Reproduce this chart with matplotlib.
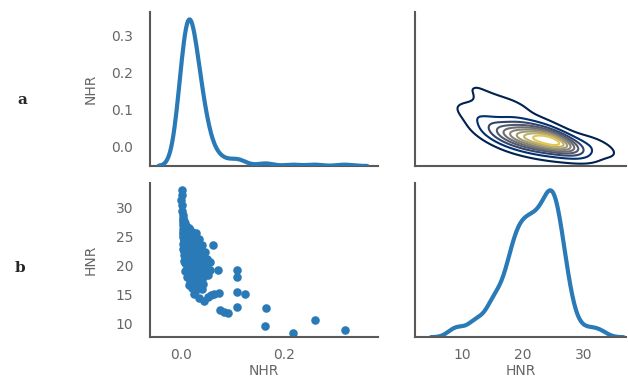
import numpy as np
import matplotlib
matplotlib.use("Agg")
import matplotlib.pyplot as plt
import seaborn as sns

# NHR / HNR pairs (one line per HNR band)
nhr = [
    0.0011, 0.0016, 0.0009, 0.0022, 0.0018, 0.0031, 0.0035,
    0.0047, 0.0062, 0.0039, 0.0081, 0.0055, 0.0070,
    0.0044, 0.0093, 0.0066, 0.0052, 0.0150, 0.0077, 0.0049, 0.0185, 0.0063, 0.0089, 0.0110, 0.0058,
    0.0084, 0.0219, 0.0044, 0.0127, 0.0300, 0.0071, 0.0165, 0.0030, 0.0111, 0.0251, 0.0057, 0.0143, 0.0098, 0.0192, 0.0205, 0.0160, 0.0120, 0.0240,
    0.0116, 0.0035, 0.0263, 0.0084, 0.0152, 0.0360, 0.0068, 0.0198, 0.0051, 0.0133, 0.0302, 0.0100, 0.0230, 0.0172, 0.0145, 0.0090, 0.0230, 0.0120, 0.0180,
    0.0077, 0.0195, 0.0040, 0.0299, 0.0133, 0.0096, 0.0410, 0.0151, 0.0059, 0.0225, 0.0114, 0.0343, 0.0173, 0.0262,
    0.0128, 0.0045, 0.0253, 0.0087, 0.0385, 0.0170, 0.0066, 0.0219, 0.0149, 0.0460, 0.0107, 0.0294, 0.0194, 0.0336,
    0.0096, 0.0280, 0.0050, 0.0165, 0.0427, 0.0119, 0.0216, 0.0073, 0.0372, 0.0142, 0.0510, 0.0188, 0.0243, 0.0326,
    0.0135, 0.0410, 0.0060, 0.0240, 0.0560, 0.0110, 0.0185, 0.0310, 0.0085, 0.0470, 0.0160, 0.0360, 0.0210, 0.0270,
    0.0150, 0.0480, 0.0230, 0.0330, 0.0110, 0.0400, 0.0190, 0.0280, 0.0560, 0.0085, 0.0360, 0.0420,
    0.0210, 0.0430, 0.0160, 0.0350, 0.0520, 0.0260, 0.0390, 0.0120, 0.0310, 0.0180, 0.0450,
    0.0250, 0.0410, 0.0180, 0.0340, 0.0290, 0.0270, 0.0360, 0.0200,
    0.0430, 0.0150, 0.0380, 0.0220, 0.0400,
    0.0300, 0.0260, 0.0350,
    0.0520, 0.0585, 0.0650, 0.0740,
    0.063, 0.072, 0.109, 0.109, 0.109, 0.124, 0.076, 0.084, 0.092, 0.109,
    0.166, 0.163, 0.217, 0.260, 0.318, 0.0455,
]
hnr = [
    33.0, 32.2, 31.3, 30.5, 29.5, 28.7, 28.2,
    27.9, 27.7, 27.5, 27.3, 27.15, 27.05,
    26.95, 26.85, 26.75, 26.6, 26.5, 26.4, 26.3, 26.2, 26.1, 26.05, 26.65, 26.25,
    25.95, 25.88, 25.8, 25.72, 25.65, 25.58, 25.5, 25.42, 25.35, 25.28, 25.2, 25.13, 25.06, 25.0, 25.45, 25.75, 25.15, 25.3,
    24.93, 24.86, 24.79, 24.71, 24.64, 24.57, 24.5, 24.43, 24.36, 24.29, 24.21, 24.14, 24.07, 24.0, 24.6, 24.25, 24.85, 24.45, 24.7,
    23.93, 23.86, 23.79, 23.71, 23.64, 23.57, 23.5, 23.43, 23.36, 23.29, 23.21, 23.14, 23.07, 23.0,
    22.93, 22.86, 22.79, 22.71, 22.64, 22.57, 22.5, 22.43, 22.36, 22.29, 22.21, 22.14, 22.07, 22.0,
    21.93, 21.86, 21.79, 21.71, 21.64, 21.57, 21.5, 21.43, 21.36, 21.29, 21.21, 21.14, 21.07, 21.0,
    20.93, 20.86, 20.79, 20.71, 20.64, 20.57, 20.5, 20.43, 20.36, 20.29, 20.21, 20.14, 20.07, 20.0,
    19.92, 19.83, 19.74, 19.65, 19.56, 19.47, 19.38, 19.29, 19.2, 19.11, 19.02, 19.35,
    18.9, 18.77, 18.63, 18.5, 18.37, 18.24, 18.11, 18.0, 18.85, 18.45, 18.15,
    17.85, 17.6, 17.4, 17.2, 17.0, 17.75, 17.5, 17.3,
    16.8, 16.6, 16.4, 16.2, 16.0,
    15.7, 15.0, 14.4,
    14.6, 14.9, 15.1, 15.2,
    23.6, 19.2, 19.2, 18.0, 15.4, 15.0, 12.3, 12.0, 11.8, 12.8,
    12.6, 9.5, 8.4, 10.5, 8.8, 13.8,
]

nhr_ticks = [0.0, 0.1, 0.2, 0.3]
nhr_ticklabels = ["0.0", "0.1", "0.2", "0.3"]
xnhr_ticks = [0.0, 0.2]
hnr_yticks = [10, 15, 20, 25, 30]
hnr_xticks = [10, 20, 30]
row_labels = ["a", "b"]

sns.set_style("white")
plt.rcParams["font.family"] = ["DejaVu Sans"]
grey = "0.35"
lab = "0.4"
blue = "#2a7ab8"

nhr = np.array(nhr)
hnr = np.array(hnr)

fig = plt.figure(figsize=(6.28, 3.78), dpi=100)
ax00 = fig.add_axes([0.239, 0.561, 0.363, 0.407])
ax01 = fig.add_axes([0.661, 0.561, 0.336, 0.407])
ax10 = fig.add_axes([0.239, 0.108, 0.363, 0.408])
ax11 = fig.add_axes([0.661, 0.108, 0.336, 0.408])

nhr_xlim = (-0.060, 0.383)
nhr_ylim = (-0.052, 0.362)
hnr_xlim = (2.2, 37.0)
hnr_ylim = (7.6, 34.3)

# diag NHR
ax00.set_xlim(nhr_xlim)
ax00.set_ylim(nhr_ylim)
ax00.set_yticks(nhr_ticks)
ax00.set_yticklabels(nhr_ticklabels)
ax00.set_xticks([])
d0 = ax00.twinx()
sns.kdeplot(x=nhr, ax=d0, color=blue, lw=3)
d0.set_xlim(nhr_xlim)
d0.set_ylim(bottom=0)
d0.set_yticks([])
d0.set_ylabel("")
for s in d0.spines.values():
    s.set_visible(False)

# upper: HNR vs NHR density
sns.kdeplot(x=hnr, y=nhr, ax=ax01, cmap="cividis", linewidths=1.5, bw_adjust=1.2)
ax01.set_xlim(hnr_xlim)
ax01.set_ylim(nhr_ylim)
ax01.set_xticks([])
ax01.set_yticks([])
ax01.set_xlabel("")
ax01.set_ylabel("")

# lower: scatter
ax10.scatter(nhr, hnr, s=38, color=blue, linewidths=0)
ax10.set_xlim(nhr_xlim)
ax10.set_ylim(hnr_ylim)
ax10.set_xticks(xnhr_ticks)
ax10.set_yticks(hnr_yticks)

# diag HNR
sns.kdeplot(x=hnr, ax=ax11, color=blue, lw=3, bw_adjust=0.75)
ax11.set_xlim(hnr_xlim)
ax11.set_ylim(bottom=0)
ax11.set_xticks(hnr_xticks)
ax11.set_yticks([])
ax11.set_ylabel("")
ax11.set_xlabel("")

for ax in [ax00, ax01, ax10, ax11]:
    ax.spines["top"].set_visible(False)
    ax.spines["right"].set_visible(False)
    ax.spines["left"].set_color(grey)
    ax.spines["bottom"].set_color(grey)
    ax.spines["left"].set_linewidth(1.5)
    ax.spines["bottom"].set_linewidth(1.5)
    ax.tick_params(length=0, labelsize=10, colors=lab, pad=12)
ax10.tick_params(axis="x", pad=8)
ax11.tick_params(axis="x", pad=8)

ax00.set_ylabel("NHR", fontsize=10, color=lab)
ax00.yaxis.set_label_coords(-0.228, 0.5)
ax10.set_ylabel("HNR", fontsize=10, color=lab)
ax10.yaxis.set_label_coords(-0.228, 0.5)
ax10.set_xlabel("NHR", fontsize=10, color=lab)
ax10.xaxis.set_label_coords(0.5, -0.175)
ax11.set_xlabel("HNR", fontsize=10, color=lab)
ax11.xaxis.set_label_coords(0.5, -0.175)

fig.text(0.035, 0.735, row_labels[0], fontsize=11, fontweight="bold",
         family="DejaVu Serif", color="0.15", ha="center", va="center")
fig.text(0.032, 0.291, row_labels[1], fontsize=11, fontweight="bold",
         family="DejaVu Serif", color="0.15", ha="center", va="center")

fig.savefig("out.png", dpi=100)
